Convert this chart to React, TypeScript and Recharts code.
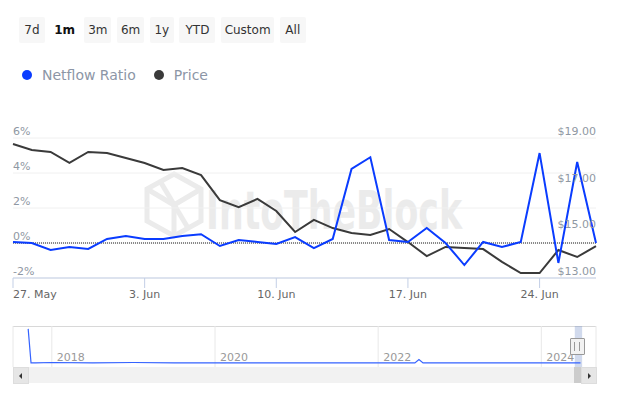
import React from 'react';
import {
  LineChart,
  Line,
  XAxis,
  YAxis,
  CartesianGrid,
  ReferenceLine,
  ReferenceArea,
} from 'recharts';

// daily points, 27 May .. 27 Jun
const dayLabels = [
  'May 27', 'May 28', 'May 29', 'May 30', 'May 31', 'Jun 1', 'Jun 2', 'Jun 3',
  'Jun 4', 'Jun 5', 'Jun 6', 'Jun 7', 'Jun 8', 'Jun 9', 'Jun 10', 'Jun 11',
  'Jun 12', 'Jun 13', 'Jun 14', 'Jun 15', 'Jun 16', 'Jun 17', 'Jun 18', 'Jun 19',
  'Jun 20', 'Jun 21', 'Jun 22', 'Jun 23', 'Jun 24', 'Jun 25', 'Jun 26', 'Jun 27',
];
const netflowRatio = [
  0.06, 0.0, -0.4, -0.23, -0.34, 0.23, 0.4, 0.23, 0.23, 0.4, 0.5, -0.17, 0.17, 0.06,
  -0.06, 0.34, -0.29, 0.23, 4.23, 4.9, 0.17, 0.06, 0.86, 0.0, -1.26, 0.06, -0.23,
  0.06, 5.14, -1.14, 4.63, 0.0,
];
const price = [
  18.74, 18.49, 18.4, 17.93, 18.4, 18.36, 18.14, 17.93, 17.63, 17.71, 17.41, 16.34,
  16.04, 16.39, 15.87, 14.97, 15.49, 15.14, 14.93, 14.84, 15.1, 14.54, 13.94, 14.33,
  14.29, 14.24, 13.69, 13.21, 13.21, 14.2, 13.9, 14.37,
];
const tickDays = [0, 7, 14, 21, 28];
const tickLabels = ['27. May', '3. Jun', '10. Jun', '17. Jun', '24. Jun'];
const leftTicks = [-2, 0, 2, 4, 6];
const rightTicks = [13, 15, 17, 19];

// navigator (full history)
const navYears = [
  2017.71, 2017.745, 2017.8, 2018.0, 2018.5, 2019.0, 2019.5, 2020.0, 2020.5, 2021.0,
  2021.5, 2022.0, 2022.45, 2022.5, 2022.55, 2023.0, 2023.5, 2024.0, 2024.48,
];
const navValues = [
  9.3, 1.0, 1.0, 1.1, 1.0, 1.1, 1.0, 1.0, 1.0, 1.0, 1.0, 1.0, 1.0, 1.8, 1.0, 1.0,
  1.0, 1.0, 1.0,
];
const navTicks = [2018, 2020, 2022, 2024];

const ranges = ['7d', '1m', '3m', '6m', '1y', 'YTD', 'Custom', 'All'];
const rangeWidths = [26, 28, 27, 27, 24, 36, 53, 26];
const selectedRange = '1m';

const BLUE = '#0a3cff';
const DARK = '#3a3a3a';
const AXIS = '#c3cfe6';
const FONT = '"DejaVu Sans", sans-serif';
const PLOT_LEFT = 13;
const PLOT_RIGHT = 596;

const data = dayLabels.map((d, i) => ({
  day: i,
  label: d,
  netflow: netflowRatio[i],
  price: price[i],
}));
const navData = navYears.map((y, i) => ({ year: y, value: navValues[i] }));

const LeftTick = (props: any) => (
  <text x={PLOT_LEFT} y={props.y - 3} fill="#8f98a3" fontSize={11} fontFamily={FONT} textAnchor="start">
    {props.payload.value}%
  </text>
);

const RightTick = (props: any) => (
  <text x={PLOT_RIGHT} y={props.y - 3} fill="#8f98a3" fontSize={11} fontFamily={FONT} textAnchor="end">
    ${props.payload.value.toFixed(2)}
  </text>
);

const BottomTick = (props: any) => {
  const idx = tickDays.indexOf(props.payload.value);
  return (
    <text
      x={props.x}
      y={props.y}
      dy="0.71em"
      fill="#666"
      fontSize={11}
      fontFamily={FONT}
      textAnchor={idx === 0 ? 'start' : 'middle'}
    >
      {tickLabels[idx]}
    </text>
  );
};

// navigator labels sit inside the plot, just above its bottom edge
const NavTick = (props: any) => (
  <text x={props.x + 5} y={props.y - 8} fill="#999" fontSize={11} fontFamily={FONT}>
    {props.payload.value}
  </text>
);

function Watermark() {
  return (
    <svg width={633} height={399} style={{ position: 'absolute', left: 0, top: 0 }}>
      <g stroke="#ebebeb" strokeWidth={5} fill="none">
        <polygon points="174,174 201,189 201,221 174,236 147,221 147,189" />
        <polyline points="147,189 174,205 201,189" />
        <line x1={174} y1={205} x2={174} y2={236} />
        <line x1={160} y1={181} x2={188} y2={228} />
      </g>
      <text
        x={206}
        y={229}
        fontFamily={FONT}
        fontWeight="bold"
        fontSize={54}
        fill="#ebebeb"
        textLength={256}
        lengthAdjust="spacingAndGlyphs"
      >
        IntoTheBlock
      </text>
    </svg>
  );
}

export default function App() {
  return (
    <div
      style={{
        position: 'absolute',
        left: 0,
        top: 0,
        width: 633,
        height: 399,
        background: '#fff',
        fontFamily: FONT,
        overflow: 'hidden',
      }}
    >
      {/* range selector */}
      <div style={{ position: 'absolute', left: 19, top: 17, display: 'flex', gap: 5.7 }}>
        {ranges.map((r, i) => (
          <div
            key={r}
            style={{
              width: rangeWidths[i],
              height: 26,
              lineHeight: '26px',
              textAlign: 'center',
              background: r === selectedRange ? 'transparent' : '#f7f7f7',
              borderRadius: 2,
              fontSize: 12,
              color: r === selectedRange ? '#111' : '#333',
              fontWeight: r === selectedRange ? 'bold' : 'normal',
            }}
          >
            {r}
          </div>
        ))}
      </div>

      {/* legend */}
      <div style={{ position: 'absolute', left: 22, top: 67, display: 'flex', alignItems: 'center', fontSize: 14, color: '#8c96a6' }}>
        <span style={{ width: 10, height: 10, borderRadius: 5, background: BLUE, display: 'inline-block', marginRight: 10 }} />
        <span>Netflow Ratio</span>
        <span style={{ width: 10, height: 10, borderRadius: 5, background: DARK, display: 'inline-block', marginLeft: 18, marginRight: 10 }} />
        <span>Price</span>
      </div>

      <Watermark />

      <div style={{ position: 'absolute', left: 0, top: 0 }}>
        <LineChart width={633} height={310} data={data} margin={{ top: 138, right: 36, left: 12, bottom: 0 }}>
          <CartesianGrid vertical={false} stroke="#f0f0f0" yAxisId="left" />
          <XAxis
            dataKey="day"
            type="number"
            domain={[0, 31]}
            ticks={tickDays}
            interval={0}
            height={32}
            axisLine={{ stroke: AXIS, strokeWidth: 1 }}
            tickLine={{ stroke: AXIS, strokeWidth: 1 }}
            tickSize={10}
            tick={<BottomTick />}
          />
          <YAxis
            yAxisId="left"
            width={1}
            domain={[-2, 6]}
            ticks={leftTicks}
            interval={0}
            axisLine={false}
            tickLine={false}
            tick={<LeftTick />}
          />
          <YAxis
            yAxisId="right"
            orientation="right"
            width={1}
            domain={[13, 19]}
            ticks={rightTicks}
            interval={0}
            axisLine={false}
            tickLine={false}
            tick={<RightTick />}
          />
          <ReferenceLine yAxisId="left" y={0} stroke="#666" strokeWidth={1.5} strokeDasharray="1 1" />
          <Line
            yAxisId="right"
            type="linear"
            dataKey="price"
            stroke={DARK}
            strokeWidth={2}
            dot={false}
            isAnimationActive={false}
          />
          <Line
            yAxisId="left"
            type="linear"
            dataKey="netflow"
            stroke={BLUE}
            strokeWidth={2}
            dot={false}
            isAnimationActive={false}
          />
        </LineChart>
      </div>

      {/* navigator */}
      <div style={{ position: 'absolute', left: 13, top: 326, width: 583, height: 1, background: '#d8d8d8' }} />
      <div style={{ position: 'absolute', left: 0, top: 326 }}>
        <LineChart width={633} height={42} data={navData} margin={{ top: 0, right: 37, left: 13, bottom: 0 }}>
          <CartesianGrid horizontal={false} stroke="#e8e8e8" />
          <XAxis
            dataKey="year"
            type="number"
            domain={[2017.524, 2024.67]}
            ticks={navTicks}
            interval={0}
            height={1}
            axisLine={false}
            tickLine={false}
            tickSize={0}
            tick={<NavTick />}
          />
          <YAxis hide domain={[0, 10]} />
          <ReferenceArea x1={2024.41} x2={2024.5} fill="#6685c2" fillOpacity={0.3} stroke="none" />
          <Line
            type="linear"
            dataKey="value"
            stroke="#3563ff"
            strokeWidth={1.2}
            dot={false}
            isAnimationActive={false}
          />
        </LineChart>
      </div>
      {/* navigator handle */}
      <div
        style={{
          position: 'absolute',
          left: 570,
          top: 338,
          width: 13,
          height: 15,
          background: '#f2f2f2',
          border: '1px solid #999',
          borderRadius: 1,
        }}
      >
        <div style={{ position: 'absolute', left: 3, top: 3, width: 1, height: 9, background: '#999' }} />
        <div style={{ position: 'absolute', left: 8, top: 3, width: 1, height: 9, background: '#999' }} />
      </div>

      {/* scrollbar */}
      <div style={{ position: 'absolute', left: 13, top: 367, width: 583, height: 16, background: '#f2f2f2' }} />
      <div style={{ position: 'absolute', left: 13, top: 367, width: 14, height: 15, background: '#e6e6e6', border: '1px solid #ddd' }}>
        <div style={{ position: 'absolute', left: 5, top: 5, width: 0, height: 0, borderTop: '3px solid transparent', borderBottom: '3px solid transparent', borderRight: '3px solid #333' }} />
      </div>
      <div style={{ position: 'absolute', left: 574, top: 367, width: 7, height: 16, background: '#cccccc' }} />
      <div style={{ position: 'absolute', left: 581, top: 367, width: 14, height: 15, background: '#e6e6e6', border: '1px solid #ddd' }}>
        <div style={{ position: 'absolute', left: 6, top: 5, width: 0, height: 0, borderTop: '3px solid transparent', borderBottom: '3px solid transparent', borderLeft: '3px solid #333' }} />
      </div>
    </div>
  );
}
